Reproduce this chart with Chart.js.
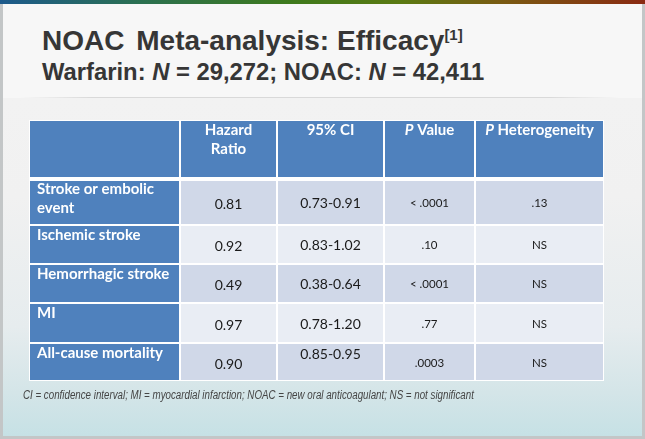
<!DOCTYPE html>
<html>
<head>
<meta charset="utf-8">
<script src="https://cdn.jsdelivr.net/npm/chart.js@4.4.1/dist/chart.umd.min.js"></script>
<style>
  html, body { margin: 0; padding: 0; background: #ffffff; }
  #slide { position: relative; width: 645px; height: 439px; overflow: hidden; background: #c3c6c7; }
  #inner { position: absolute; left: 3px; top: 0; width: 639px; height: 436px;
    background: linear-gradient(to bottom, #f3f3f3 0%, #f1f1f1 45%, #e6ecee 75%, #d4e5e8 90%, #c6e1e5 100%); }
  #band { position: absolute; left: 3px; top: 4px; width: 639px; height: 94px; background: #f7f7f7; }
  #rule { position: absolute; left: 20px; top: 97px; width: 600px; height: 1px;
    background: linear-gradient(to right, rgba(215,215,215,0), #d9d9d9 12%, #d9d9d9 88%, rgba(215,215,215,0)); }
  #topbar { position: absolute; left: 0; top: 0; width: 645px; height: 4px;
    background: linear-gradient(to right, #1d5a8c 0%, #2b7050 22%, #3e7a1c 45%, #5a7a12 62%, #7a5a12 78%, #8a2a12 100%); }
  #title { position: absolute; left: 42px; top: 27px; font: bold 28px "Liberation Sans", Arial, sans-serif;
    line-height: 28px; color: #363636; white-space: nowrap; }
  #title .w1 { margin-right: 4px; }
  #title sup { font-size: 15px; vertical-align: 10px; line-height: 0; }
  #sub { position: absolute; left: 42px; top: 60px; font: bold 23.8px "Liberation Sans", Arial, sans-serif;
    line-height: 24px; color: #363636; white-space: nowrap; }
  #foot { position: absolute; left: 23px; top: 389px; font: italic 12.5px "Liberation Sans", Arial, sans-serif;
    line-height: 12px; color: #454545; white-space: nowrap; transform: scaleX(0.78); transform-origin: 0 0; }
  #wrap { position: absolute; left: 0; top: 0; width: 645px; height: 439px; }
</style>
</head>
<body>
<div id="slide">
  <div id="inner"></div>
  <div id="band"></div>
  <div id="rule"></div>
  <div id="topbar"></div>
  <div id="title"><span class="w1">NOAC</span> Meta-analysis: Efficacy<sup>[1]</sup></div>
  <div id="sub">Warfarin: <i>N</i> = 29,272; NOAC: <i>N</i> = 42,411</div>
  <div id="wrap"><canvas id="c"></canvas></div>
  <div id="foot">CI = confidence interval; MI = myocardial infarction; NOAC = new oral anticoagulant; NS = not significant</div>
</div>
<script>
// ---- table content (data) ----
const headers = ["", "Hazard Ratio", "95% CI", "*P* Value", "*P* Heterogeneity"];
const outcomes = ["Stroke or embolic event", "Ischemic stroke", "Hemorrhagic stroke", "MI", "All-cause mortality"];
const hazardRatio = ["0.81", "0.92", "0.49", "0.97", "0.90"];
const ci95 = ["0.73-0.91", "0.83-1.02", "0.38-0.64", "0.78-1.20", "0.85-0.95"];
const pValue = ["< .0001", ".10", "< .0001", ".77", ".0003"];
const pHeterogeneity = [".13", "NS", "NS", "NS", "NS"];

// ---- layout (table grid in scale units) ----
const colEdges = [0, 151, 248, 355, 446, 575];
const rowEdges = [0, 59, 105, 144, 183, 223, 261];

const BLUE = "#4f81bd", BAND1 = "#d0d8e8", BAND2 = "#e9edf4";
const HEAD_SIZE = 15, BIG_SIZE = 14, SMALL_SIZE = 11.5;

const bodyCols = [hazardRatio, ci95, pValue, pHeterogeneity];
const nRows = rowEdges.length - 1, nCols = colEdges.length - 1;

function cellColor(r, c) {
  if (r === 0 || c === 0) return BLUE;
  return (r % 2 === 1) ? BAND1 : BAND2;
}

const datasets = [];
for (let r = 0; r < nRows; r++) {
  const data = [], colors = [];
  for (let c = 0; c < nCols; c++) {
    data.push({ x: [colEdges[c], colEdges[c + 1]], y: (rowEdges[r] + rowEdges[r + 1]) / 2 });
    colors.push(cellColor(r, c));
  }
  datasets.push({
    data,
    grouped: false,
    categoryPercentage: 1,
    barPercentage: 2,
    backgroundColor: colors,
    borderColor: "#ffffff",
    borderWidth: r === 0 ? { top: 1, left: 1, right: 1, bottom: 2 } : (r === 1 ? { top: 2, left: 1, right: 1, bottom: 1 } : 1),
    borderSkipped: false,
    maxBarThickness: rowEdges[r + 1] - rowEdges[r],
  });
}

function drawRich(ctx, text, x, y, size, align, color) {
  const parts = text.split("*");
  const segs = parts.map((t, i) => ({ t, it: i % 2 === 1 })).filter(s => s.t.length);
  let w = 0;
  segs.forEach(s => { ctx.font = (s.it ? "italic " : "") + "bold " + size + "px Lato"; s.w = ctx.measureText(s.t).width; w += s.w; });
  let cx = align === "center" ? x - w / 2 : x;
  ctx.fillStyle = color; ctx.textAlign = "left"; ctx.textBaseline = "middle";
  segs.forEach(s => { ctx.font = (s.it ? "italic " : "") + "bold " + size + "px Lato"; ctx.fillText(s.t, cx, y); cx += s.w; });
}

function wrap(ctx, text, maxW) {
  const words = text.split(" "), lines = [];
  let cur = "";
  words.forEach(wd => {
    const t = cur ? cur + " " + wd : wd;
    if (ctx.measureText(t).width > maxW && cur) { lines.push(cur); cur = wd; } else cur = t;
  });
  if (cur) lines.push(cur);
  return lines;
}

const textPlugin = {
  id: "tableText",
  afterDatasetsDraw(chart) {
    const { ctx, scales: { x, y } } = chart;
    ctx.save();
    const px = v => x.getPixelForValue(v), py = v => y.getPixelForValue(v);
    for (let c = 1; c < nCols; c++) {
      const cx = (px(colEdges[c]) + px(colEdges[c + 1])) / 2;
      if (c === 1) {
        drawRich(ctx, "Hazard", cx, py(rowEdges[0]) + 10.5, HEAD_SIZE, "center", "#ffffff");
        drawRich(ctx, "Ratio", cx, py(rowEdges[0]) + 29.5, HEAD_SIZE, "center", "#ffffff");
      } else {
        drawRich(ctx, headers[c], cx, py(rowEdges[0]) + 10.5, HEAD_SIZE, "center", "#ffffff");
      }
    }
    for (let r = 1; r < nRows; r++) {
      const top = py(rowEdges[r]), bot = py(rowEdges[r + 1]);
      const mid = (top + bot) / 2;
      ctx.font = "bold " + HEAD_SIZE + "px Lato";
      const lines = wrap(ctx, outcomes[r - 1], px(colEdges[1]) - px(colEdges[0]) - 12);
      lines.forEach((ln, i) => drawRich(ctx, ln, px(colEdges[0]) + 8, top + 10.5 + i * 19, HEAD_SIZE, "left", "#ffffff"));
      for (let c = 1; c < nCols; c++) {
        const cx = (px(colEdges[c]) + px(colEdges[c + 1])) / 2;
        const big = c <= 2;
        const txt = bodyCols[c - 1][r - 1];
        let yy = mid + (c === 1 ? 2 : 1);
        if (r === nRows - 1 && c === 2) yy = top + 11;
        ctx.font = (big ? BIG_SIZE : SMALL_SIZE) + "px Lato";
        ctx.fillStyle = "#1a1a1a"; ctx.textAlign = "center"; ctx.textBaseline = "middle";
        ctx.fillText(txt, cx, yy);
      }
    }
    ctx.restore();
  }
};

new Chart(document.getElementById("c"), {
  type: "bar",
  data: { labels: [], datasets },
  options: {
    indexAxis: "y",
    responsive: true,
    maintainAspectRatio: false,
    animation: false,
    layout: { padding: { left: 29, right: 41, top: 120, bottom: 58 } },
    plugins: { legend: { display: false }, tooltip: { enabled: false }, title: { display: false } },
    scales: {
      x: { type: "linear", min: 0, max: 575, display: false },
      y: { type: "linear", min: 0, max: 261, reverse: true, display: false, offset: false, ticks: { stepSize: 261 } }
    }
  },
  plugins: [textPlugin]
});
</script>
</body>
</html>
